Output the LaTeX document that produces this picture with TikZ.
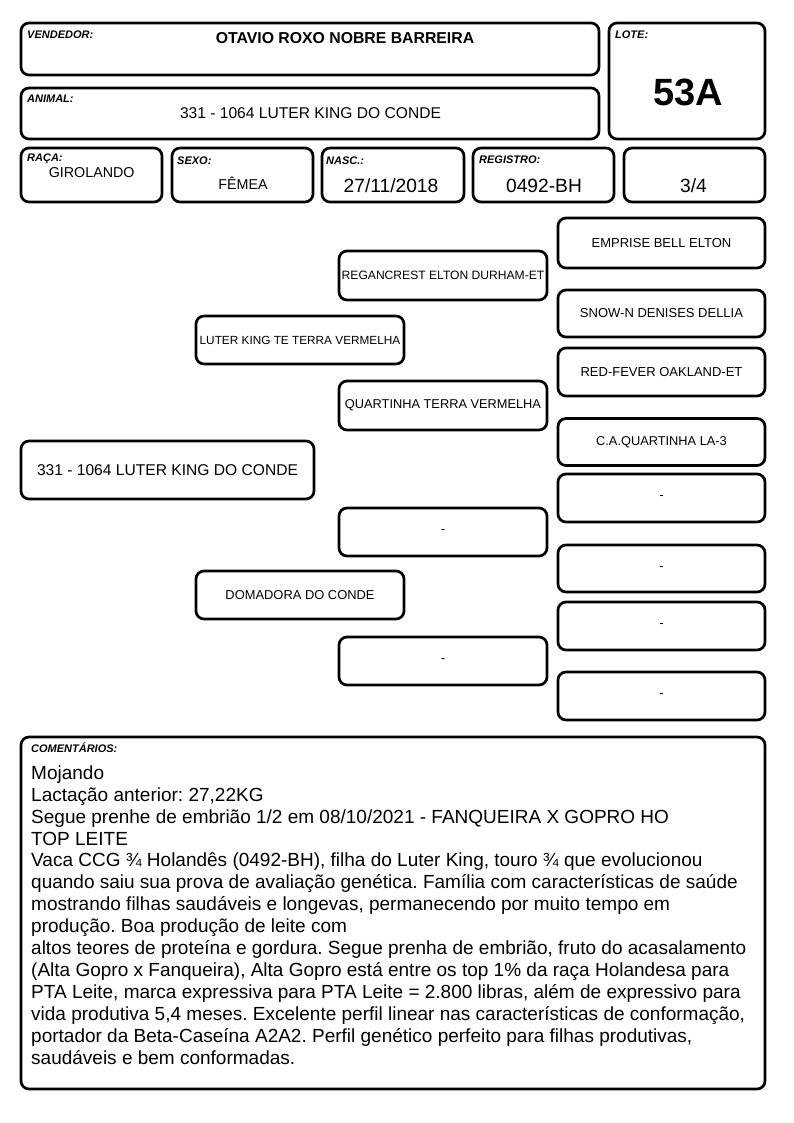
\documentclass[tikz,border=0pt]{standalone}
\usepackage{fontspec}
\setmainfont{Liberation Sans}
\frenchspacing
\newcommand{\fsz}[1]{\fontsize{#1}{#1}\selectfont}
\begin{document}
\begin{tikzpicture}[x=1pt,y=-1pt,
  box/.style={draw, line width=2.7pt, rounded corners=8pt, inner sep=0pt, outer sep=0pt},
  lbl/.style={anchor=base west, inner sep=0pt, font=\fsz{11}\bfseries\itshape},
  val/.style={anchor=base, inner sep=0pt},
  ped/.style={box, minimum width=208pt, font=\fsz{13}},
  cline/.style={anchor=base west, inner sep=0pt, font=\fsz{19}}]
\useasboundingbox (0,0) rectangle (794,1123);
\fill[white] (0,0) rectangle (794,1123);
% header boxes
\node[box, minimum width=578pt, minimum height=52pt] (vend) at (310,49) {};
\node[box, minimum width=156pt, minimum height=116pt] (lote) at (687,81) {};
\node[box, minimum width=578pt, minimum height=51pt] (anim) at (310,113.5) {};
\node[box, minimum width=141pt, minimum height=54pt] (raca) at (91.5,175) {};
\node[box, minimum width=141pt, minimum height=54pt] (sexo) at (242.5,175) {};
\node[box, minimum width=142pt, minimum height=54pt] (nasc) at (393,175) {};
\node[box, minimum width=141pt, minimum height=54pt] (reg) at (543.5,175) {};
\node[box, minimum width=141pt, minimum height=54pt] (frac) at (694.5,175) {};
% labels
\node[lbl] (lvend) at (27,39) {VENDEDOR:};
\node[lbl] (llote) at (615,39) {LOTE:};
\node[lbl] (lanim) at (27,103) {ANIMAL:};
\node[lbl] (lraca) at (27,162) {RAÇA:};
\node[lbl] (lsexo) at (177,164.5) {SEXO:};
\node[lbl] (lnasc) at (326,164.5) {NASC.:};
\node[lbl] (lreg) at (479,164) {REGISTRO:};
% values
\node[val, font=\fsz{15.8}\bfseries] (tvend) at (345,44) {OTAVIO ROXO NOBRE BARREIRA};
\node[val, font=\fsz{38}\bfseries] (tlote) at (688,105.3) {53A};
\node[val, font=\fsz{15.6}] (tanim) at (310.5,119) {331 - 1064 LUTER KING DO CONDE};
\node[val, font=\fsz{14.3}] (traca) at (91.7,177.3) {GIROLANDO};
\node[val, font=\fsz{14.3}] (tsexo) at (243,189.3) {FÊMEA};
\node[val, font=\fsz{19.2}] (tnasc) at (391,193) {27/11/2018};
\node[val, font=\fsz{19.2}] (treg) at (544,193) {0492-BH};
\node[val, font=\fsz{19.2}] (tfrac) at (693.5,193) {3/4};
% pedigree
\node[box, minimum width=293pt, minimum height=58pt, font=\fsz{15.6}] (p1) at (167.5,470) {331 - 1064 LUTER KING DO CONDE};
\node[ped, minimum height=48pt, font=\fsz{11.8}] (sire) at (300,340) {LUTER KING TE TERRA VERMELHA};
\node[ped, minimum height=48pt, font=\fsz{12.9}] (dam) at (300,595) {DOMADORA DO CONDE};
\node[ped, minimum height=49pt, font=\fsz{12.1}] (ss) at (443,275.5) {REGANCREST ELTON DURHAM-ET};
\node[ped, minimum height=49pt, font=\fsz{12.8}] (sd) at (443,405.5) {QUARTINHA TERRA VERMELHA};
\node[ped, minimum height=48pt] (ds) at (443,532) {-};
\node[ped, minimum height=48pt] (dd) at (443,661) {-};
\node[ped, minimum width=207pt, minimum height=50pt] (sss) at (661.5,243) {EMPRISE BELL ELTON};
\node[ped, minimum width=207pt, minimum height=47pt] (ssd) at (661.5,313.5) {SNOW-N DENISES DELLIA};
\node[ped, minimum width=207pt, minimum height=48pt] (sds) at (661.5,372) {RED-FEVER OAKLAND-ET};
\node[ped, minimum width=207pt, minimum height=47pt, font=\fsz{12.8}] (sdd) at (661.5,442) {C.A.QUARTINHA LA-3};
\node[ped, minimum width=207pt, minimum height=48pt] (dss) at (661.5,498) {-};
\node[ped, minimum width=207pt, minimum height=47pt] (dsd) at (661.5,568.5) {-};
\node[ped, minimum width=207pt, minimum height=48pt] (dds) at (661.5,626) {-};
\node[ped, minimum width=207pt, minimum height=48pt] (ddd) at (661.5,696) {-};
% comments
\node[box, minimum width=744pt, minimum height=352pt] (comm) at (393,913) {};
\node[lbl] (lcomm) at (31,752.5) {COMENTÁRIOS:};
\node[cline] (c1) at (31,779.3) {Mojando};
\node[cline] (c2) at (31,801.2) {Lactação anterior: 27,22KG};
\node[cline] (c3) at (31,823.1) {Segue prenhe de embrião 1/2 em 08/10/2021 - FANQUEIRA X GOPRO HO};
\node[cline] (c4) at (31,845.0) {TOP LEITE};
\node[cline] (c5) at (31,866.9) {Vaca CCG ¾ Holandês (0492-BH), filha do Luter King, touro ¾ que evolucionou};
\node[cline] (c6) at (31,888.8) {quando saiu sua prova de avaliação genética. Família com características de saúde};
\node[cline] (c7) at (31,910.7) {mostrando filhas saudáveis e longevas, permanecendo por muito tempo em};
\node[cline] (c8) at (31,932.6) {produção. Boa produção de leite com};
\node[cline] (c9) at (31,954.5) {altos teores de proteína e gordura. Segue prenha de embrião, fruto do acasalamento};
\node[cline] (c10) at (31,976.4) {(Alta Gopro x Fanqueira), Alta Gopro está entre os top 1\% da raça Holandesa para};
\node[cline] (c11) at (31,998.3) {PTA Leite, marca expressiva para PTA Leite = 2.800 libras, além de expressivo para};
\node[cline] (c12) at (31,1020.2) {vida produtiva 5,4 meses. Excelente perfil linear nas características de conformação,};
\node[cline] (c13) at (31,1042.1) {portador da Beta-Caseína A2A2. Perfil genético perfeito para filhas produtivas,};
\node[cline] (c14) at (31,1064.0) {saudáveis e bem conformadas.};
\end{tikzpicture}
\end{document}
